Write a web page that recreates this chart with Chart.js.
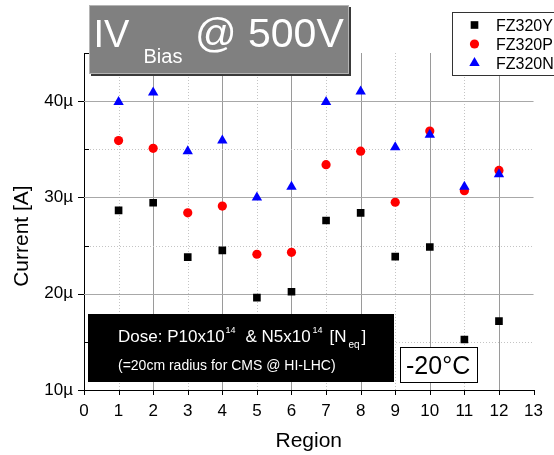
<!DOCTYPE html>
<html>
<head>
<meta charset="utf-8">
<title>IV Bias @ 500V</title>
<script src="https://cdn.jsdelivr.net/npm/chart.js@4.4.1/dist/chart.umd.min.js"></script>
<style>
  body { margin: 0; background: #fff; }
  #wrap { position: relative; width: 554px; height: 455px; }
</style>
</head>
<body>
<div id="wrap"><canvas id="iv-chart" width="554" height="455"></canvas></div>
<script>
// sensor regions (x)
const regions = [1, 2, 3, 4, 5, 6, 7, 8, 9, 10, 11, 12];

// leakage current at 500V, in µA
const fz320Y = [28.65, 29.45, 23.8, 24.5, 19.6, 20.2, 27.6, 28.4, 23.85, 24.85, 15.25, 17.15];
const fz320P = [35.9, 35.1, 28.4, 29.1, 24.1, 24.3, 33.4, 34.8, 29.5, 36.9, 30.7, 32.8];
const fz320N = [39.9, 40.9, 34.8, 35.9, 30.0, 31.1, 39.9, 41.0, 35.2, 36.5, 31.1, 32.4];

// y tick labels only on the major ticks
const yLabelled = [10, 20, 30, 40];

const FONT = '"Liberation Sans", Arial, sans-serif';
Chart.defaults.font.family = FONT;
Chart.defaults.color = '#000';

function points(ys) {
    return regions.map((r, i) => ({ x: r, y: ys[i] }));
}

function line(ctx, x1, y1, x2, y2) {
    ctx.beginPath();
    ctx.moveTo(x1, y1);
    ctx.lineTo(x2, y2);
    ctx.stroke();
}

// grid: solid on even regions / every 10µ, dotted in between
const gridLines = {
    id: 'gridLines',
    beforeDatasetsDraw(chart) {
        const { ctx, chartArea: a, scales: { x, y } } = chart;
        ctx.save();
        ctx.lineWidth = 1;
        x.ticks.forEach(t => {
            const px = Math.round(x.getPixelForValue(t.value)) + 0.5;
            if (t.value > x.min && t.value < x.max) {
                const major = t.value % 2 === 0;
                ctx.strokeStyle = major ? '#9a9a9a' : '#c4c4c4';
                ctx.setLineDash(major ? [] : [1, 2]);
                line(ctx, px, a.top, px, a.bottom);
            }
            ctx.setLineDash([]);
            ctx.strokeStyle = '#000';
            line(ctx, px, a.bottom, px, a.bottom + 5);
        });
        y.ticks.forEach(t => {
            const py = Math.round(y.getPixelForValue(t.value)) + 0.5;
            const major = t.value % 10 === 0;
            if (t.value > y.min && t.value < y.max) {
                ctx.strokeStyle = major ? '#a8a8a8' : '#c4c4c4';
                ctx.setLineDash(major ? [] : [1, 2]);
                line(ctx, a.left, py, a.right, py);
            }
            ctx.setLineDash([]);
            ctx.strokeStyle = '#000';
            if (major) line(ctx, a.left - 6, py, a.left, py);
            else line(ctx, a.left, py, a.left + 5, py);
        });
        ctx.restore();
    }
};

function txt(ctx, s, x, y, size) {
    ctx.font = size + 'px ' + FONT;
    ctx.fillText(s, x, y);
}

// title box, dose note, temperature and legend
const boxes = {
    id: 'boxes',
    afterDraw(chart) {
        const ctx = chart.ctx;
        ctx.save();
        ctx.textAlign = 'left';
        ctx.textBaseline = 'alphabetic';

        // title
        ctx.fillStyle = '#3a3a3a';
        ctx.fillRect(91, 7, 260, 69);
        ctx.fillStyle = '#808080';
        ctx.fillRect(89, 5, 260, 69);
        ctx.strokeStyle = '#b4b4b4';
        ctx.lineWidth = 1;
        ctx.strokeRect(89.5, 5.5, 259, 68);
        ctx.fillStyle = '#fff';
        txt(ctx, 'IV', 93.5, 47, 38);
        txt(ctx, 'Bias', 143.5, 63, 20);
        txt(ctx, '@ 500V', 195, 47, 41);

        // dose
        ctx.fillStyle = '#000';
        ctx.fillRect(88, 314, 306, 68);
        ctx.fillStyle = '#fff';
        txt(ctx, 'Dose: P10x10', 118, 342, 17);
        txt(ctx, '14', 225.5, 333, 9);
        txt(ctx, '& N5x10', 245.5, 342, 17);
        txt(ctx, '14', 312.5, 333, 9);
        txt(ctx, '[N', 329.5, 342, 17);
        txt(ctx, 'eq', 348.5, 348, 10);
        txt(ctx, ']', 361.5, 342, 17);
        txt(ctx, '(=20cm radius for CMS @ HI-LHC)', 118, 370, 14);

        // temperature
        ctx.fillStyle = '#fff';
        ctx.fillRect(400.5, 347.5, 77, 35);
        ctx.strokeStyle = '#000';
        ctx.strokeRect(400.5, 347.5, 77, 35);
        ctx.fillStyle = '#000';
        txt(ctx, '-20°C', 406, 373.5, 25);

        // legend
        ctx.fillStyle = '#fff';
        ctx.fillRect(452.5, 12.5, 110, 63);
        ctx.strokeStyle = '#333';
        ctx.strokeRect(452.5, 12.5, 110, 63);
        chart.data.datasets.forEach((ds, i) => {
            const cy = 25 + i * 19;
            ctx.fillStyle = ds.backgroundColor;
            Chart.helpers.drawPoint(ctx, {
                pointStyle: ds.pointStyle,
                radius: ds.pointRadius,
                rotation: 0,
                borderWidth: 0
            }, 474.5, cy);
            ctx.fillStyle = '#000';
            txt(ctx, ds.label, 496, cy + 6, 16);
        });
        ctx.restore();
    }
};

const ctx = document.getElementById('iv-chart').getContext('2d');
const ivChart = new Chart(ctx, {
    type: 'scatter',
    data: {
        datasets: [{
            label: 'FZ320Y',
            data: points(fz320Y),
            pointStyle: 'rect',
            pointRadius: 5.4,
            backgroundColor: '#000000',
            borderWidth: 0,
            order: 3
        }, {
            label: 'FZ320P',
            data: points(fz320P),
            pointStyle: 'circle',
            pointRadius: 4.6,
            backgroundColor: '#ff0000',
            borderWidth: 0,
            order: 2
        }, {
            label: 'FZ320N',
            data: points(fz320N),
            pointStyle: 'triangle',
            pointRadius: 6,
            backgroundColor: '#0000ff',
            borderWidth: 0,
            order: 1
        }]
    },
    options: {
        responsive: false,
        animation: false,
        layout: { padding: { top: 53, right: 15, bottom: 0, left: 0 } },
        plugins: {
            legend: { display: false },
            tooltip: { enabled: false }
        },
        scales: {
            x: {
                type: 'linear',
                min: 0,
                max: 13,
                ticks: { stepSize: 1, padding: 11, font: { size: 17 } },
                grid: { display: false, drawTicks: false },
                border: { color: '#000', width: 1 },
                title: {
                    display: true,
                    text: 'Region',
                    font: { size: 21 },
                    padding: { top: 0, bottom: 1 }
                },
                afterFit: s => { s.height = 65; }
            },
            y: {
                min: 10,
                max: 45,
                ticks: {
                    stepSize: 5,
                    padding: 11,
                    font: { size: 17 },
                    callback: v => yLabelled.includes(v) ? v + 'µ' : ''
                },
                grid: { display: false, drawTicks: false },
                border: { color: '#000', width: 1 },
                title: {
                    display: true,
                    text: 'Current [A]     ',
                    font: { size: 21 },
                    padding: { top: 10, bottom: 0 }
                },
                afterFit: s => { s.width = 84; }
            }
        }
    },
    plugins: [gridLines, boxes]
});
</script>
</body>
</html>
